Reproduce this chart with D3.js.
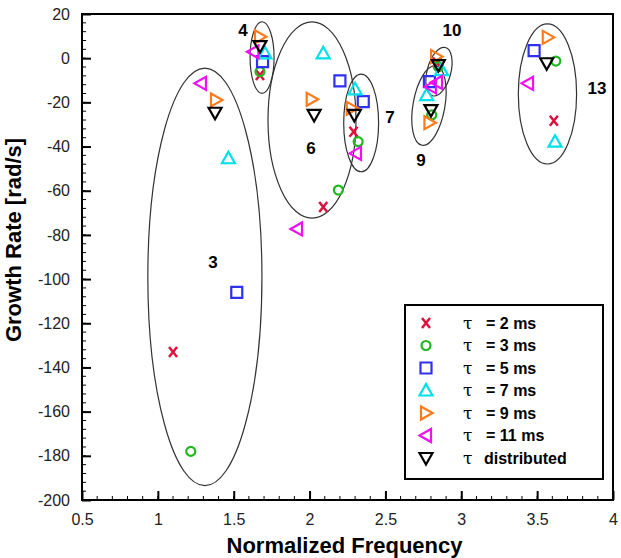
<!DOCTYPE html>
<html>
<head>
<meta charset="utf-8">
<script src="https://cdn.jsdelivr.net/npm/d3@7"></script>
<style>
body { margin:0; background:#fff; }
text { font-family: "Liberation Sans", Arial, sans-serif; }
</style>
</head>
<body>
<div id="chart"></div>
<script>
var margin = {top: 14, right: 8, bottom: 58, left: 82},
    outerWidth = 621,
    outerHeight = 558,
    width = outerWidth - margin.left - margin.right,
    height = outerHeight - margin.top - margin.bottom;

// series (x = normalized frequency, y = growth rate)
var seriesNames = ["= 2 ms", "= 3 ms", "= 5 ms", "= 7 ms", "= 9 ms", "= 11 ms", "distributed"];
var seriesColors = ["#e0103c", "#22b822", "#3030f0", "#00e0e8", "#ff7a1a", "#f010f0", "#000000"];
var seriesShapes = ["x", "circle", "square", "up", "right", "left", "down"];

var tau2x  = [1.10, 1.673, 2.09, 2.29, 2.84, 3.61];
var tau2y  = [-133, -7.6, -67.4, -33.3, -2, -28.3];
var tau3x  = [1.217, 1.673, 2.19, 2.32, 2.805, 2.849, 3.623];
var tau3y  = [-178, -6.1, -59.7, -37.8, -25.7, -3.9, -1.3];
var tau5x  = [1.52, 1.69, 2.20, 2.354, 2.79, 3.48];
var tau5y  = [-106, -1.6, -10.3, -19.7, -10.6, 3.4];
var tau7x  = [1.465, 1.706, 2.09, 2.30, 2.772, 2.87, 3.618];
var tau7y  = [-45.3, 2.2, 2.2, -14.1, -16.7, -5.4, -37.8];
var tau9x  = [1.383, 1.673, 2.014, 2.278, 2.79, 2.834, 3.57];
var tau9y  = [-18.9, 9.7, -18.6, -22.7, -29.2, 0.7, 9.4];
var tau11x = [1.284, 1.63, 1.917, 2.306, 2.80, 2.84, 3.44];
var tau11y = [-11.4, 2.9, -77.3, -43.1, -13, -11, -11.4];
var taudx  = [1.377, 1.673, 2.03, 2.295, 2.80, 2.849, 3.563];
var taudy  = [-24.7, 5.5, -25.7, -25.7, -23.5, -3.1, -2.3];

var seriesX = [tau2x, tau3x, tau5x, tau7x, tau9x, tau11x, taudx];
var seriesY = [tau2y, tau3y, tau5y, tau7y, tau9y, tau11y, taudy];

// mode groups: ellipse centre, radii (data units), tilt in degrees
var groupNames = ["3", "4", "6", "7", "9", "10", "13"];
var groupCx = [1.31, 1.687, 2.016, 2.34, 2.787, 2.853, 3.568];
var groupCy = [-99, 0.3, -28, -29.3, -21.4, -6.1, -16.2];
var groupRx = [0.376, 0.079, 0.29, 0.115, 0.105, 0.078, 0.192];
var groupRy = [94.5, 16.2, 44.4, 22.1, 18.3, 11.3, 31.7];
var groupTilt = [0, 0, 0, 0, 10, 15, 0];
// label positions (data units)
var labelX = [1.364, 1.561, 2.01, 2.53, 2.735, 2.939, 3.895];
var labelY = [-92.3, 12.8, -40.7, -26.6, -46.1, 12.8, -13.5];

var xTicks = [0.5, 1, 1.5, 2, 2.5, 3, 3.5, 4];
var yTicks = [20, 0, -20, -40, -60, -80, -100, -120, -140, -160, -180, -200];

var x = d3.scaleLinear().domain([0.5, 4]).range([0, width]);
var y = d3.scaleLinear().domain([-200, 20]).range([height, 0]);

var svg = d3.select("#chart").append("svg")
    .attr("width", outerWidth)
    .attr("height", outerHeight)
    .append("g")
    .attr("transform", "translate(" + margin.left + "," + margin.top + ")");

// minor ticks
var xMinor = d3.range(0.5, 4.0001, 0.1);
var yMinor = d3.range(-200, 20.0001, 4);
svg.append("g").selectAll("line").data(xMinor).enter().append("line")
    .attr("x1", function(d) { return x(d); }).attr("x2", function(d) { return x(d); })
    .attr("y1", height).attr("y2", height - 4)
    .attr("stroke", "#000").attr("stroke-width", 1);
svg.append("g").selectAll("line").data(yMinor).enter().append("line")
    .attr("y1", function(d) { return y(d); }).attr("y2", function(d) { return y(d); })
    .attr("x1", 0).attr("x2", 4)
    .attr("stroke", "#000").attr("stroke-width", 1);

var xAxis = d3.axisBottom(x).tickValues(xTicks).tickSize(-9).tickPadding(14)
    .tickFormat(function(d) { return d; });
var yAxis = d3.axisLeft(y).tickValues(yTicks).tickSize(-9).tickPadding(12)
    .tickFormat(function(d) { return d; });

var gX = svg.append("g").attr("transform", "translate(0," + height + ")").call(xAxis);
var gY = svg.append("g").call(yAxis);
[gX, gY].forEach(function(g) {
    g.select(".domain").remove();
    g.selectAll(".tick line").attr("stroke-width", 2);
    g.selectAll(".tick text").style("font-size", "16px").attr("fill", "#222");
});

// frame
svg.append("rect")
    .attr("width", width).attr("height", height)
    .attr("fill", "none").attr("stroke", "#000").attr("stroke-width", 2);

// ellipses
svg.append("g").selectAll("ellipse").data(groupNames).enter().append("ellipse")
    .attr("cx", 0).attr("cy", 0)
    .attr("rx", function(d, i) { return x(groupCx[i] + groupRx[i]) - x(groupCx[i]); })
    .attr("ry", function(d, i) { return y(groupCy[i]) - y(groupCy[i] + groupRy[i]); })
    .attr("transform", function(d, i) {
        return "translate(" + x(groupCx[i]) + "," + y(groupCy[i]) + ") rotate(" + groupTilt[i] + ")";
    })
    .attr("fill", "none").attr("stroke", "#333").attr("stroke-width", 1.2);

svg.append("g").selectAll("text").data(groupNames).enter().append("text")
    .attr("x", function(d, i) { return x(labelX[i]); })
    .attr("y", function(d, i) { return y(labelY[i]); })
    .attr("text-anchor", "middle")
    .attr("dy", "0.35em")
    .style("font-size", "17px").style("font-weight", "bold")
    .text(function(d) { return d; });

function shapePath(shape) {
    if (shape == "x") return "M-4,-5L4,5M4,-5L-4,5";
    if (shape == "square") return "M-5.5,-5.5H5.5V5.5H-5.5Z";
    if (shape == "up") return "M0,-6.5L6.5,5L-6.5,5Z";
    if (shape == "down") return "M0,6.5L6.5,-5L-6.5,-5Z";
    if (shape == "right") return "M6.5,0L-5,6.5L-5,-6.5Z";
    if (shape == "left") return "M-6.5,0L5,6.5L5,-6.5Z";
    return null;
}

function drawMarker(g, shape, color) {
    if (shape == "circle") {
        g.append("circle").attr("r", 4.5)
            .attr("fill", "none").attr("stroke", color).attr("stroke-width", 2.2);
    } else {
        g.append("path").attr("d", shapePath(shape))
            .attr("fill", "none").attr("stroke", color)
            .attr("stroke-width", shape == "x" ? 2.5 : 2.2)
            .attr("stroke-linejoin", "miter");
    }
}

var points = svg.append("g");
seriesNames.forEach(function(name, si) {
    seriesX[si].forEach(function(xv, k) {
        var g = points.append("g")
            .attr("transform", "translate(" + x(xv) + "," + y(seriesY[si][k]) + ")");
        drawMarker(g, seriesShapes[si], seriesColors[si]);
    });
});

// legend
var legend = svg.append("g").attr("transform", "translate(" + (405 - margin.left) + "," + (305 - margin.top) + ")");
legend.append("rect").attr("width", 198).attr("height", 174)
    .attr("fill", "#fff").attr("stroke", "#000").attr("stroke-width", 2);
seriesNames.forEach(function(name, i) {
    var row = legend.append("g").attr("transform", "translate(0," + (18 + i * 22.5) + ")");
    drawMarker(row.append("g").attr("transform", "translate(21,0)"), seriesShapes[i], seriesColors[i]);
    row.append("text").attr("x", 58).attr("dy", "0.35em")
        .style("font-size", "17px").style("font-family", "'DejaVu Serif', serif")
        .text("\u03c4");
    row.append("text").attr("x", name == "distributed" ? 79 : 81).attr("dy", "0.35em")
        .style("font-size", "16px").style("font-weight", "bold")
        .text(name);
});

// axis titles
svg.append("text")
    .attr("x", width / 2 - 3).attr("y", height + 53)
    .attr("text-anchor", "middle")
    .style("font-size", "22px").style("font-weight", "bold")
    .text("Normalized Frequency");
svg.append("text")
    .attr("transform", "rotate(-90)")
    .attr("x", -height / 2 + 17).attr("y", -61)
    .attr("text-anchor", "middle")
    .style("font-size", "22px").style("font-weight", "bold")
    .text("Growth Rate [rad/s]");
</script>
</body>
</html>
